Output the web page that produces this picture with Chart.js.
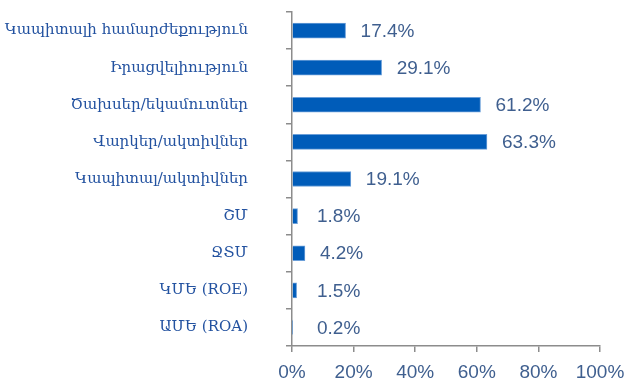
<!DOCTYPE html>
<html lang="hy">
<head>
    <meta charset="UTF-8">
    <script src="https://cdn.jsdelivr.net/npm/chart.js"></script>
    <style>
        html, body { margin: 0; padding: 0; background: #ffffff; }
        #chart-box { position: relative; width: 625px; height: 378px; }
    </style>
    <script>
        // Ratios, in percent
        var categories = [
            "Կապիտալի համարժեքություն",
            "Իրացվելիություն",
            "Ծախսեր/եկամուտներ",
            "Վարկեր/ակտիվներ",
            "Կապիտալ/ակտիվներ",
            "ՇՄ",
            "ՋՏՄ",
            "ԿՄԵ (ROE)",
            "ԱՄԵ (ROA)"
        ];
        var values = [17.4, 29.1, 61.2, 63.3, 19.1, 1.8, 4.2, 1.5, 0.2];
        var xTicks = [0, 20, 40, 60, 80, 100];
    </script>
</head>
<body>
    <div id="chart-box">
        <canvas id="ratio_bar-chart"></canvas>
    </div>

    <script>
        // writes "17.4%" etc. to the right of each bar
        var valueLabels = {
            id: "valueLabels",
            afterDatasetsDraw: function (chart) {
                var ctx = chart.ctx;
                var meta = chart.getDatasetMeta(0);
                ctx.save();
                ctx.font = "19px 'Liberation Sans', Arial, sans-serif";
                ctx.fillStyle = "#3f5f8f";
                ctx.textAlign = "left";
                ctx.textBaseline = "middle";
                meta.data.forEach(function (bar, i) {
                    var x = Math.max(bar.x + 15, 317);
                    ctx.fillText(values[i].toFixed(1) + "%", x, bar.y + 1);
                });
                ctx.restore();
            }
        };

        // no extra space around the axes, the layout padding decides it
        function noPadding(scale) {
            scale.paddingTop = 0;
            scale.paddingBottom = 0;
            scale.paddingLeft = 0;
            scale.paddingRight = 0;
        }

        var ctx = document.getElementById("ratio_bar-chart");
        var barChart = new Chart(ctx, {
            type: "bar",
            data: {
                labels: categories,
                datasets: [
                    {
                        data: values,
                        backgroundColor: "#005cb9",
                        borderColor: "#6b9fd9",
                        borderWidth: 1,
                        barThickness: 15,
                    },
                ]
            },
            options: {
                indexAxis: "y",
                responsive: true,
                maintainAspectRatio: false,
                animation: false,
                layout: {
                    padding: { top: 12, right: 25, left: 0, bottom: 0 }
                },
                plugins: {
                    legend: { display: false },
                    tooltip: { enabled: false },
                },
                scales: {
                    x: {
                        min: 0,
                        max: 100,
                        afterBuildTicks: function (scale) {
                            scale.ticks = xTicks.map(function (v) { return { value: v }; });
                        },
                        afterFit: function (scale) {
                            scale.height = 32;
                            noPadding(scale);
                        },
                        border: { display: true, color: "#8c8c8c", width: 1.5 },
                        grid: {
                            drawOnChartArea: false,
                            drawTicks: true,
                            tickLength: 6,
                            color: "#8c8c8c",
                            lineWidth: 1.5,
                        },
                        ticks: {
                            padding: 9,
                            color: "#3f5f8f",
                            font: { family: "'Liberation Sans', Arial, sans-serif", size: 19 },
                            maxRotation: 0,
                            callback: function (v) { return v + "%"; },
                        },
                    },
                    y: {
                        afterFit: function (scale) {
                            scale.width = 292;
                            noPadding(scale);
                        },
                        border: { display: true, color: "#8c8c8c", width: 1.5 },
                        grid: {
                            offset: true,
                            drawOnChartArea: false,
                            drawTicks: true,
                            tickLength: 6,
                            color: "#8c8c8c",
                            lineWidth: 1.5,
                        },
                        ticks: {
                            padding: 38,
                            color: "#2352a0",
                            font: { family: "'DejaVu Serif', 'DejaVu Sans', serif", size: 15 },
                        },
                    },
                }
            },
            plugins: [valueLabels]
        });
    </script>
</body>
</html>
